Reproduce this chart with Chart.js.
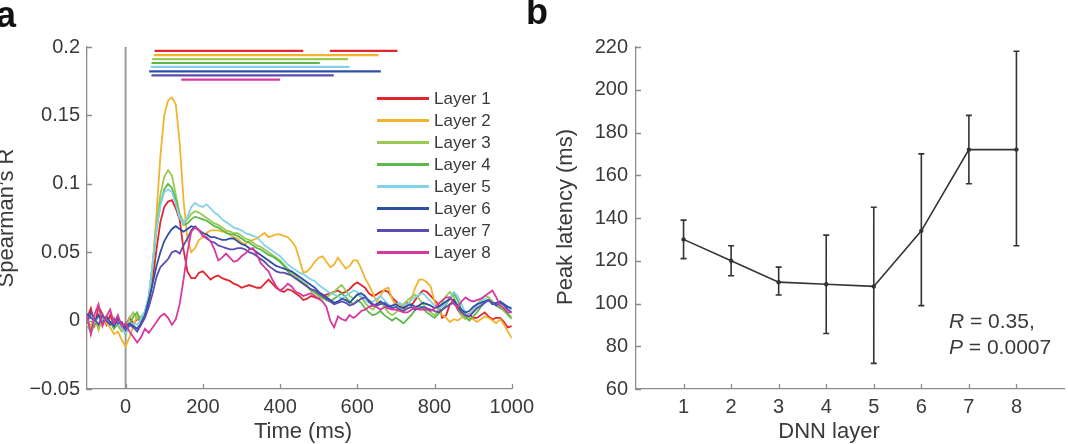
<!DOCTYPE html>
<html>
<head>
<meta charset="utf-8">
<script src="https://cdn.jsdelivr.net/npm/chart.js@4.4.1/dist/chart.umd.min.js"></script>
<style>
  html, body { margin: 0; padding: 0; background: #fff; overflow: hidden; }
  #wrap { position: relative; width: 1068px; height: 444px; }
  #chartA { position: absolute; left: 0; top: 0; }
  #chartB { position: absolute; left: 520px; top: 0; }
</style>
</head>
<body>
<div id="wrap">
  <canvas id="chartA" width="540" height="444"></canvas>
  <canvas id="chartB" width="548" height="444"></canvas>
</div>
<script>
// ---------- panel a data (time in ms, 10 ms steps from -100 to 1000) ----------
const timeStart = -100, timeStep = 10;
const layer1 = [0.002,0.009,-0.003,0.010,0.005,-0.003,0.004,-0.004,0.001,-0.006,-0.004,0.002,-0.002,0.001,0.000,
  0.005,0.012,0.030,0.052,0.072,0.083,0.087,0.088,0.082,0.074,
  0.052,0.036,0.031,0.031,0.035,0.036,0.033,0.030,0.032,0.033,
  0.031,0.030,0.029,0.027,0.026,0.024,0.025,0.026,0.025,0.024,
  0.024,0.027,0.030,0.027,0.024,0.022,0.021,0.023,0.022,0.020,
  0.018,0.015,0.016,0.018,0.017,0.016,
  0.018,0.019,0.020,0.021,0.022,0.020,0.021,0.023,0.026,0.028,
  0.026,0.024,0.020,0.018,0.019,0.021,0.022,0.021,0.017,0.014,
  0.012,0.010,0.013,0.011,0.015,0.019,0.022,0.021,0.018,0.015,
  0.012,0.002,0.004,0.012,0.014,0.008,0.004,0.003,0.005,0.002,
  0.002,0.004,0.006,0.003,0.001,0.002,0.002,-0.001,-0.005,-0.004];
const layer2 = [0.000,-0.004,0.003,-0.007,0.002,-0.002,-0.005,-0.010,-0.008,-0.014,-0.019,-0.012,-0.004,0.004,0.002,
  0.006,0.015,0.040,0.078,0.120,0.150,0.161,0.163,0.158,0.130,
  0.088,0.060,0.050,0.053,0.059,0.061,0.064,0.066,0.066,0.066,
  0.065,0.065,0.063,0.061,0.060,0.057,0.056,0.058,0.059,0.060,
  0.062,0.064,0.061,0.062,0.063,0.063,0.062,0.061,0.058,0.054,
  0.045,0.035,0.036,0.039,0.043,0.046,
  0.047,0.043,0.039,0.041,0.046,0.042,0.038,0.040,0.044,0.044,
  0.038,0.031,0.026,0.020,0.014,0.018,0.023,0.024,0.016,0.010,
  0.012,0.008,0.011,0.016,0.024,0.030,0.030,0.028,0.025,0.014,
  0.007,0.004,0.002,-0.001,0.001,0.000,0.002,0.004,0.002,0.001,
  -0.001,0.001,0.003,0.002,0.000,-0.002,0.001,-0.003,-0.008,-0.013];
const layer3 = [-0.004,-0.008,0.002,-0.006,0.004,0.000,-0.003,0.002,-0.004,-0.008,-0.006,0.002,0.006,0.001,0.003,
  0.006,0.018,0.042,0.070,0.092,0.105,0.110,0.106,0.092,0.078,
  0.072,0.074,0.078,0.080,0.079,0.077,0.075,0.073,0.071,0.070,
  0.068,0.066,0.065,0.064,0.064,0.062,0.060,0.059,0.057,0.055,
  0.054,0.052,0.050,0.048,0.046,0.044,0.041,0.038,0.035,0.033,
  0.030,0.028,0.026,0.022,0.020,0.018,
  0.016,0.017,0.019,0.021,0.024,0.026,0.022,0.018,0.016,0.019,
  0.017,0.013,0.010,0.008,0.011,0.014,0.010,0.006,0.004,0.006,
  0.009,0.012,0.015,0.017,0.019,0.016,0.012,0.009,0.006,0.004,
  0.008,0.013,0.018,0.021,0.017,0.010,0.004,0.001,0.004,0.008,
  0.012,0.015,0.018,0.017,0.014,0.012,0.010,0.007,0.004,0.001];
const layer4 = [0.003,-0.009,-0.002,0.004,-0.003,0.002,-0.001,-0.006,-0.002,-0.005,-0.010,-0.003,0.003,0.006,-0.002,
  0.005,0.016,0.040,0.066,0.085,0.096,0.100,0.097,0.088,0.076,
  0.070,0.071,0.074,0.076,0.075,0.074,0.073,0.071,0.069,0.068,
  0.066,0.064,0.063,0.063,0.062,0.060,0.058,0.057,0.055,0.053,
  0.052,0.050,0.048,0.047,0.045,0.043,0.040,0.036,0.033,0.031,
  0.029,0.027,0.025,0.022,0.021,0.019,
  0.017,0.015,0.014,0.016,0.018,0.020,0.017,0.014,0.012,0.015,
  0.013,0.009,0.006,0.004,0.005,0.007,0.004,0.002,0.000,0.002,
  0.000,-0.002,0.001,0.004,0.008,0.011,0.009,0.006,0.004,0.002,
  0.005,0.008,0.012,0.016,0.020,0.015,0.008,0.003,0.000,0.003,
  0.006,0.010,0.013,0.015,0.013,0.011,0.009,0.008,0.005,0.002];
const layer5 = [0.002,0.004,-0.001,0.003,0.000,0.001,-0.002,-0.004,-0.001,-0.006,-0.009,-0.004,-0.002,-0.003,0.001,
  0.007,0.018,0.042,0.067,0.084,0.094,0.096,0.094,0.085,0.075,
  0.071,0.076,0.083,0.086,0.084,0.083,0.085,0.082,0.079,0.077,
  0.074,0.072,0.070,0.068,0.067,0.066,0.064,0.063,0.062,0.061,
  0.058,0.055,0.053,0.051,0.049,0.047,0.044,0.041,0.039,0.037,
  0.035,0.034,0.032,0.030,0.029,0.026,
  0.024,0.022,0.020,0.019,0.018,0.016,0.018,0.020,0.022,0.021,
  0.018,0.015,0.013,0.014,0.016,0.018,0.015,0.012,0.010,0.012,
  0.013,0.011,0.012,0.015,0.017,0.019,0.020,0.017,0.014,0.011,
  0.009,0.010,0.013,0.017,0.021,0.018,0.012,0.006,0.004,0.007,
  0.011,0.014,0.016,0.015,0.013,0.012,0.014,0.012,0.010,0.008];
const layer6 = [0.005,0.002,0.000,0.004,-0.002,0.003,-0.001,-0.004,0.002,-0.003,-0.005,-0.002,-0.004,-0.006,-0.002,
  0.004,0.015,0.027,0.040,0.050,0.058,0.063,0.067,0.069,0.067,
  0.065,0.067,0.069,0.068,0.066,0.064,0.063,0.061,0.061,0.060,
  0.059,0.059,0.060,0.060,0.058,0.056,0.055,0.053,0.052,0.050,
  0.048,0.046,0.044,0.042,0.040,0.039,0.038,0.037,0.036,0.034,
  0.032,0.030,0.028,0.026,0.024,0.021,
  0.019,0.017,0.015,0.013,0.014,0.016,0.015,0.013,0.016,0.019,
  0.020,0.018,0.014,0.011,0.012,0.014,0.012,0.010,0.011,0.012,
  0.010,0.009,0.011,0.012,0.010,0.011,0.013,0.012,0.011,0.009,
  0.010,0.012,0.014,0.016,0.015,0.011,0.008,0.006,0.007,0.010,
  0.012,0.013,0.014,0.015,0.012,0.013,0.014,0.012,0.010,0.009];
const layer7 = [-0.002,0.006,0.001,-0.003,0.004,0.000,-0.003,0.001,-0.002,-0.001,-0.007,-0.003,-0.005,-0.008,-0.003,
  0.002,0.010,0.020,0.032,0.039,0.042,0.045,0.050,0.051,0.049,
  0.055,0.060,0.066,0.069,0.066,0.062,0.060,0.058,0.057,0.055,
  0.054,0.053,0.052,0.052,0.053,0.053,0.052,0.050,0.049,0.047,
  0.045,0.043,0.040,0.038,0.036,0.035,0.035,0.034,0.033,0.031,
  0.029,0.027,0.025,0.023,0.022,0.020,
  0.018,0.016,0.014,0.012,0.013,0.014,0.013,0.011,0.012,0.014,
  0.016,0.017,0.015,0.012,0.011,0.012,0.013,0.011,0.009,0.010,
  0.008,0.007,0.009,0.010,0.008,0.009,0.010,0.009,0.008,0.007,
  0.006,0.008,0.010,0.012,0.013,0.010,0.006,0.004,0.003,0.006,
  0.009,0.011,0.013,0.015,0.013,0.011,0.013,0.011,0.008,0.006];
const layer8 = [0.004,-0.010,0.005,0.012,-0.004,0.003,0.008,-0.002,0.004,-0.004,-0.002,-0.008,-0.012,-0.016,-0.012,
  -0.006,-0.009,-0.005,-0.001,0.003,0.005,0.002,-0.003,0.001,0.012,
  0.030,0.050,0.065,0.068,0.066,0.062,0.061,0.058,0.052,0.044,
  0.046,0.049,0.046,0.043,0.044,0.047,0.049,0.052,0.053,0.048,
  0.042,0.039,0.036,0.030,0.025,0.022,0.024,0.027,0.025,0.021,
  0.020,0.018,0.019,0.020,0.018,0.016,
  0.014,0.010,0.000,-0.005,0.003,0.001,0.000,0.004,0.002,0.004,
  0.007,0.008,0.010,0.011,0.010,0.008,0.010,0.009,0.008,0.008,
  0.007,0.006,0.006,0.008,0.010,0.008,0.008,0.008,0.007,0.009,
  0.012,0.015,0.017,0.017,0.012,0.010,0.014,0.017,0.015,0.014,
  0.015,0.016,0.018,0.020,0.022,0.017,0.011,0.009,0.006,0.006];

const layerNames = ['Layer 1','Layer 2','Layer 3','Layer 4','Layer 5','Layer 6','Layer 7','Layer 8'];
const layerColors = ['#e1262d','#f1b42f','#98c953','#5db84c','#86d1ea','#2d4fa4','#5b4cb2','#d7399d'];
const layerSeries = [layer1, layer2, layer3, layer4, layer5, layer6, layer7, layer8];

// significant time windows (ms) and the level they are drawn at
const sigWindows = [[[75,460],[529,704]], [[73,655]], [[69,576]], [[67,503]], [[65,580]], [[61,661]], [[67,539]], [[144,400]]];
const sigLevels = [0.1972, 0.1941, 0.1912, 0.1883, 0.1854, 0.1822, 0.1792, 0.1761];

const timeTicks = [0, 200, 400, 600, 800, 1000];
const rTicks = [-0.05, 0, 0.05, 0.1, 0.15, 0.2];
const rTickLabels = ['\u22120.05', '0', '0.05', '0.1', '0.15', '0.2'];

// ---------- panel b data ----------
const dnnLayers = [1, 2, 3, 4, 5, 6, 7, 8];
const peakLatency = [130, 120, 110, 109, 108, 134, 172, 172];
const latencyLow  = [121, 113, 104, 86, 72, 99, 156, 127];
const latencyHigh = [139, 127, 117, 132, 145, 170, 188, 218];
const layerTicks = [1, 2, 3, 4, 5, 6, 7, 8];
const latencyTicks = [60, 80, 100, 120, 140, 160, 180, 200, 220];

const FONT = '"Liberation Sans", Arial, Helvetica, sans-serif';
const TEXT = '#3a3a3a';
const AXIS = '#8c8c8c';

// inward tick marks, like the original figure
const innerTicks = {
  id: 'innerTicks',
  afterDraw(chart) {
    const ctx = chart.ctx, area = chart.chartArea;
    const xs = chart.scales.x, ys = chart.scales.y;
    ctx.save();
    ctx.strokeStyle = AXIS;
    ctx.lineWidth = 1.3;
    ctx.beginPath();
    xs.ticks.forEach(t => {
      const px = Math.round(xs.getPixelForValue(t.value)) + 0.5;
      ctx.moveTo(px, area.bottom);
      ctx.lineTo(px, area.bottom - 5);
    });
    ys.ticks.forEach(t => {
      const py = Math.round(ys.getPixelForValue(t.value)) + 0.5;
      ctx.moveTo(area.left, py);
      ctx.lineTo(area.left + 5, py);
    });
    ctx.stroke();
    ctx.restore();
  }
};

function axisOpts(min, max, tickVals, labelFn, fitKey, fitSize, pad) {
  return {
    type: 'linear', min: min, max: max,
    grid: { display: false, drawTicks: false },
    border: { display: true, color: AXIS, width: 1.3 },
    afterBuildTicks: s => { s.ticks = tickVals.map(v => ({ value: v })); },
    afterFit: s => { s[fitKey] = fitSize; },
    ticks: {
      color: TEXT, padding: pad,
      font: { family: FONT, size: 20 },
      callback: labelFn,
      autoSkip: false, maxRotation: 0
    }
  };
}

// ---------- panel a ----------
const timeValues = layer1.map((_, i) => timeStart + i * timeStep);
const datasetsA = [];
layerSeries.forEach((series, k) => {
  datasetsA.push({
    label: layerNames[k],
    data: series.map((v, i) => ({ x: timeValues[i], y: v })),
    borderColor: layerColors[k], borderWidth: 1.8,
    pointRadius: 0, tension: 0, order: 8 - k
  });
});
sigWindows.forEach((wins, k) => {
  wins.forEach(w => {
    datasetsA.push({
      label: 'sig' + k,
      data: [{ x: w[0], y: sigLevels[k] }, { x: w[1], y: sigLevels[k] }],
      borderColor: layerColors[k], borderWidth: 2.2,
      pointRadius: 0, order: 20
    });
  });
});
datasetsA.push({
  label: 'onset',
  data: [{ x: 0, y: rTicks[0] }, { x: 0, y: rTicks[rTicks.length - 1] }],
  borderColor: '#9a9a9a', borderWidth: 2, pointRadius: 0, order: 30
});

const textA = {
  id: 'textA',
  afterDraw(chart) {
    const ctx = chart.ctx;
    ctx.save();
    ctx.fillStyle = '#111';
    ctx.font = 'bold 36px ' + FONT;
    ctx.textBaseline = 'alphabetic';
    ctx.textAlign = 'left';
    ctx.fillText('a', -4, 27);

    ctx.fillStyle = TEXT;
    ctx.font = '22px ' + FONT;
    ctx.textAlign = 'center';
    ctx.textBaseline = 'middle';
    ctx.fillText('Time (ms)', 303, 432);
    ctx.save();
    ctx.translate(7, 218);
    ctx.rotate(-Math.PI / 2);
    ctx.fillText('Spearman\u2019s R', 0, 0);
    ctx.restore();

    // legend
    ctx.font = '17px ' + FONT;
    ctx.textAlign = 'left';
    layerNames.forEach((name, k) => {
      const y = 98.5 + k * 22;
      ctx.strokeStyle = layerColors[k];
      ctx.lineWidth = 3;
      ctx.beginPath();
      ctx.moveTo(377, y);
      ctx.lineTo(429, y);
      ctx.stroke();
      ctx.fillStyle = TEXT;
      ctx.fillText(name, 434, y + 1);
    });
    ctx.restore();
  }
};

new Chart(document.getElementById('chartA'), {
  type: 'line',
  data: { datasets: datasetsA },
  options: {
    responsive: false, animation: false,
    layout: { padding: { top: 47, right: 25, left: 0, bottom: 0 } },
    plugins: { legend: { display: false }, tooltip: { enabled: false } },
    scales: {
      x: axisOpts(timeStart, 1000, timeTicks, v => String(v), 'height', 55, 6),
      y: axisOpts(rTicks[0], rTicks[rTicks.length - 1], rTicks,
        v => rTickLabels[rTicks.indexOf(v)] ?? '', 'width', 87, 7)
    }
  },
  plugins: [innerTicks, textA]
});

// ---------- panel b ----------
const errorBars = {
  id: 'errorBars',
  afterDatasetsDraw(chart) {
    const ctx = chart.ctx, xs = chart.scales.x, ys = chart.scales.y;
    ctx.save();
    ctx.strokeStyle = '#333';
    ctx.lineWidth = 1.6;
    ctx.beginPath();
    dnnLayers.forEach((l, i) => {
      const px = xs.getPixelForValue(l);
      const top = ys.getPixelForValue(latencyHigh[i]);
      const bot = ys.getPixelForValue(latencyLow[i]);
      ctx.moveTo(px, top); ctx.lineTo(px, bot);
      ctx.moveTo(px - 3, top); ctx.lineTo(px + 3, top);
      ctx.moveTo(px - 3, bot); ctx.lineTo(px + 3, bot);
    });
    ctx.stroke();
    ctx.restore();
  }
};

const textB = {
  id: 'textB',
  afterDraw(chart) {
    const ctx = chart.ctx;
    ctx.save();
    ctx.fillStyle = '#111';
    ctx.font = 'bold 36px ' + FONT;
    ctx.textBaseline = 'alphabetic';
    ctx.textAlign = 'left';
    ctx.fillText('b', 6, 24);

    ctx.fillStyle = TEXT;
    ctx.font = '22px ' + FONT;
    ctx.textAlign = 'center';
    ctx.textBaseline = 'middle';
    ctx.fillText('DNN layer', 309, 432);
    ctx.save();
    ctx.translate(46, 217);
    ctx.rotate(-Math.PI / 2);
    ctx.fillText('Peak latency (ms)', 0, 0);
    ctx.restore();

    // statistics annotation
    ctx.textAlign = 'left';
    ctx.font = '21px ' + FONT;
    const lines = [['R', ' = 0.35,', 322], ['P', ' = 0.0007', 348]];
    lines.forEach(([v, rest, y]) => {
      ctx.font = 'italic 21px ' + FONT;
      ctx.fillText(v, 429, y);
      const w = ctx.measureText(v).width;
      ctx.font = '21px ' + FONT;
      ctx.fillText(rest, 429 + w, y);
    });
    ctx.restore();
  }
};

new Chart(document.getElementById('chartB'), {
  type: 'line',
  data: {
    datasets: [{
      label: 'Peak latency',
      data: dnnLayers.map((l, i) => ({ x: l, y: peakLatency[i] })),
      borderColor: '#333', borderWidth: 1.6,
      pointRadius: 2.2, pointBackgroundColor: '#333', pointBorderWidth: 0,
      tension: 0
    }]
  },
  options: {
    responsive: false, animation: false,
    layout: { padding: { top: 47, right: 1, left: 0, bottom: 0 } },
    plugins: { legend: { display: false }, tooltip: { enabled: false } },
    scales: {
      x: axisOpts(0, 9, layerTicks, v => String(v), 'height', 55, 6),
      y: axisOpts(60, 220, latencyTicks, v => String(v), 'width', 116, 8)
    }
  },
  plugins: [innerTicks, errorBars, textB]
});
</script>
</body>
</html>
